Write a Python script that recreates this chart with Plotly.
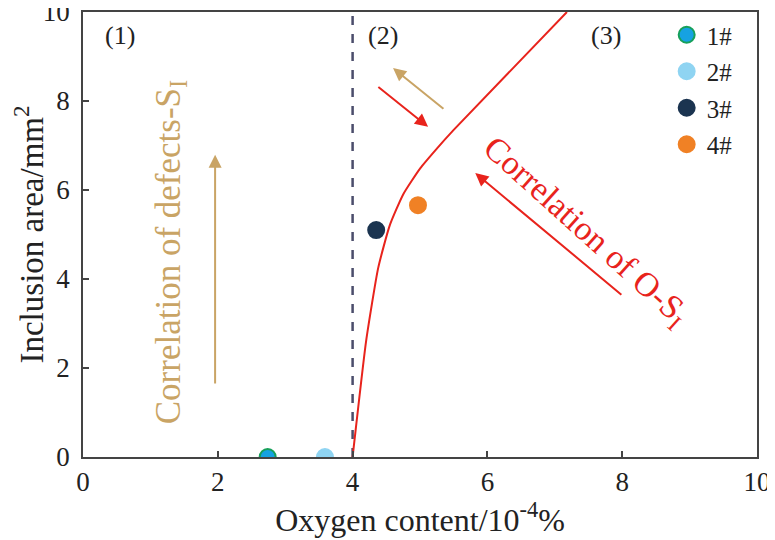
import plotly.graph_objects as go

# sample points (oxygen content, inclusion area)
samples = ['1#', '2#', '3#', '4#']
oxygen = [2.74, 3.59, 4.35, 4.97]
area = [0.0, 0.0, 5.1, 5.66]
fill_colors = ['#16a2e2', '#8fd4f2', '#1b3450', '#f08125']
edge_colors = ['#17a05a', '#8fd4f2', '#1b3450', '#f08125']

# red O-S correlation curve
curve_x = [4.0, 4.2, 4.38, 4.55, 4.75, 5.0, 5.25, 5.5, 7.18]
curve_y = [0.0, 2.6, 4.25, 5.2, 5.9, 6.48, 6.93, 7.35, 10.0]

boundary_x = 4.0
region_labels = ['(1)', '(2)', '(3)']
region_x = [0.55, 4.45, 7.76]
region_y = [9.48, 9.48, 9.48]

serif = 'Liberation Serif, Times New Roman, serif'
tan = '#c9a465'
red = '#e8231c'
ink = '#222222'

fig = go.Figure()

# dashed boundary between region 1 and 2
fig.add_trace(go.Scatter(x=[boundary_x, boundary_x], y=[0, 10], mode='lines',
                         line=dict(color='#4b4d6b', width=2.5, dash='dash'),
                         showlegend=False, hoverinfo='skip'))

fig.add_trace(go.Scatter(x=curve_x, y=curve_y, mode='lines',
                         line=dict(color=red, width=2, shape='spline', smoothing=0.5),
                         showlegend=False))

for i, s in enumerate(samples):
    fig.add_trace(go.Scatter(x=[oxygen[i]], y=[area[i]], mode='markers', name=s,
                             legendgroup=s,
                             marker=dict(size=16, color=fill_colors[i],
                                         line=dict(color=edge_colors[i], width=2))))

for lab, rx, ry in zip(region_labels, region_x, region_y):
    fig.add_annotation(x=rx, y=ry, text=lab, showarrow=False,
                       font=dict(family=serif, size=26, color=ink))

# arrows
arrows = [
    # (tail_x, tail_y, head_x, head_y, colour)
    (1.96, 1.62, 1.96, 6.79, tan),
    (5.37, 7.8, 4.6, 8.74, tan),
    (4.36, 8.34, 5.12, 7.42, red),
    (8.01, 3.62, 5.82, 6.38, red),
]
for tx, ty, hx, hy, col in arrows:
    fig.add_annotation(x=hx, y=hy, ax=tx, ay=ty, xref='x', yref='y',
                       axref='x', ayref='y', text='', showarrow=True,
                       arrowhead=2, arrowsize=1.3, arrowwidth=2, arrowcolor=col)

fig.add_annotation(x=1.29, y=4.6, text='Correlation of defects-S<sub>I</sub>',
                   showarrow=False, textangle=-90,
                   font=dict(family=serif, size=35, color=tan))
fig.add_annotation(x=7.45, y=5.06, text='Correlation of O-S<sub>I</sub>',
                   showarrow=False, textangle=42,
                   font=dict(family=serif, size=34, color=red))

axis_common = dict(range=[0, 10], dtick=2, ticks='inside', ticklen=6,
                   tickwidth=1.5, tickcolor='#444444', showline=True,
                   linecolor='#444444', linewidth=1.5, mirror=True,
                   showgrid=False, zeroline=False, automargin=False,
                   ticklabeloverflow='allow',
                   tickfont=dict(family=serif, size=27, color=ink))

fig.update_xaxes(title=dict(text='Oxygen content/10<sup>-4</sup>%', standoff=4,
                            font=dict(family=serif, size=32, color=ink)),
                 **axis_common)
fig.update_yaxes(title=dict(text='Inclusion area/mm<sup>2</sup>', standoff=16,
                            font=dict(family=serif, size=33, color=ink)),
                 ticklabelstandoff=6, **axis_common)

# the page adds an 8px body margin, so margins are shifted to keep the plot box in place
fig.update_layout(width=775, height=540,
                  margin=dict(l=75, r=26, t=4, b=91),
                  plot_bgcolor='white', paper_bgcolor='white',
                  legend=dict(x=0.866, y=1.0, xanchor='left', yanchor='top',
                              bgcolor='rgba(0,0,0,0)', tracegroupgap=1,
                              font=dict(family=serif, size=25, color=ink)))

fig.write_html("out.html")
